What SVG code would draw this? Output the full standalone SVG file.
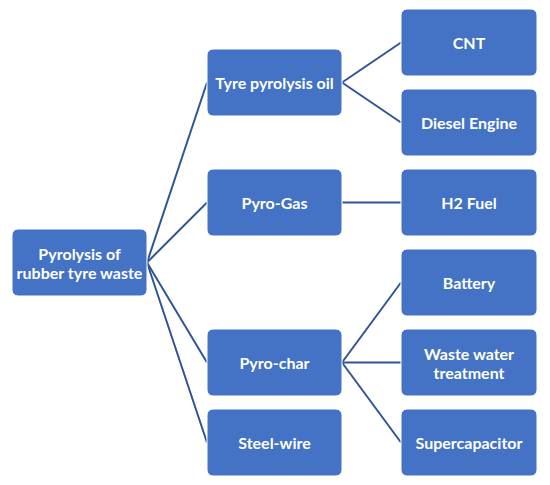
<svg xmlns="http://www.w3.org/2000/svg" width="550" height="485" viewBox="0 0 550 485">
<style>
.box{fill:#4472C4;stroke:#ffffff;stroke-width:1}
.t{fill:#ffffff;font-family:Lato,"Liberation Sans",sans-serif;font-weight:bold;font-size:16px;text-anchor:middle;dominant-baseline:central}
.c{stroke:#2F5597;stroke-width:2;fill:none}
</style>
<rect width="550" height="485" fill="#ffffff"/>
<g id="connectors">
<line class="c" x1="147" y1="262.5" x2="207" y2="82.5"/>
<line class="c" x1="147" y1="262.5" x2="207" y2="202.5"/>
<line class="c" x1="147" y1="262.5" x2="207" y2="362.5"/>
<line class="c" x1="147" y1="262.5" x2="207" y2="442.5"/>
<line class="c" x1="342" y1="82.5" x2="401" y2="42.5"/>
<line class="c" x1="342" y1="82.5" x2="401" y2="122.5"/>
<line class="c" x1="342" y1="202.5" x2="401" y2="202.5"/>
<line class="c" x1="342" y1="362.5" x2="401" y2="282.5"/>
<line class="c" x1="342" y1="362.5" x2="401" y2="362.5"/>
<line class="c" x1="342" y1="362.5" x2="401" y2="442.5"/>
</g>
<g id="root"><rect class="box" x="12" y="229" width="135" height="67" rx="6"/><text class="t" x="79.5" y="253">Pyrolysis of</text><text class="t" x="79.5" y="272">rubber tyre waste</text></g>
<g id="oil"><rect class="box" x="207" y="49" width="135" height="67" rx="6"/><text class="t" x="274.5" y="82.5">Tyre pyrolysis oil</text></g>
<g id="gas"><rect class="box" x="207" y="169" width="135" height="67" rx="6"/><text class="t" x="274.5" y="202.5">Pyro-Gas</text></g>
<g id="char"><rect class="box" x="207" y="329" width="135" height="67" rx="6"/><text class="t" x="274.5" y="362.5">Pyro-char</text></g>
<g id="steel"><rect class="box" x="207" y="409" width="135" height="67" rx="6"/><text class="t" x="274.5" y="442.5">Steel-wire</text></g>
<g id="cnt"><rect class="box" x="401" y="9" width="136" height="67" rx="6"/><text class="t" x="469" y="42.5">CNT</text></g>
<g id="diesel"><rect class="box" x="401" y="89" width="136" height="67" rx="6"/><text class="t" x="469" y="122.5">Diesel Engine</text></g>
<g id="h2"><rect class="box" x="401" y="169" width="136" height="67" rx="6"/><text class="t" x="469" y="202.5">H2 Fuel</text></g>
<g id="battery"><rect class="box" x="401" y="249" width="136" height="67" rx="6"/><text class="t" x="469" y="282.5">Battery</text></g>
<g id="water"><rect class="box" x="401" y="329" width="136" height="67" rx="6"/><text class="t" x="469" y="353">Waste water</text><text class="t" x="469" y="372">treatment</text></g>
<g id="supercap"><rect class="box" x="401" y="409" width="136" height="67" rx="6"/><text class="t" x="469" y="442.5">Supercapacitor</text></g>
</svg>
